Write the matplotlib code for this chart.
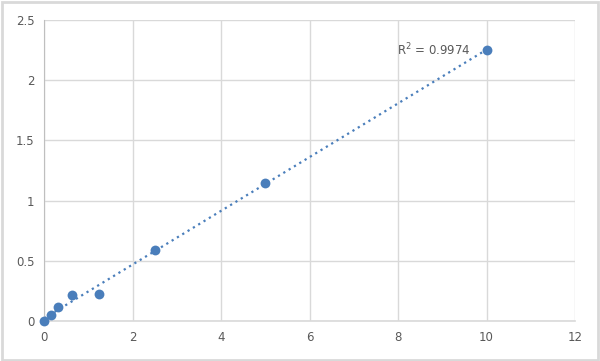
import numpy as np
import matplotlib.pyplot as plt
from matplotlib.patches import Rectangle

# standard curve readings
concentration = [0, 0.156, 0.3125, 0.625, 1.25, 2.5, 5, 10]
od_value = [0.0, 0.05, 0.12, 0.22, 0.225, 0.59, 1.15, 2.25]
x_ticks = [0, 2, 4, 6, 8, 10, 12]
y_ticks = [0, 0.5, 1, 1.5, 2, 2.5]
y_labels = ['0', '0.5', '1', '1.5', '2', '2.5']
r2_label = 'R$^2$ = 0.9974'

blue = '#4a7ebb'
grey_text = '#595959'
grid_col = '#d9d9d9'

fig = plt.figure(figsize=(6, 3.61), dpi=100)
ax = fig.add_axes([44 / 600, 40 / 361, 531 / 600, 301 / 361])

x = np.array(concentration)
y = np.array(od_value)
slope, intercept = np.polyfit(x, y, 1)
xs = np.array([x.min(), x.max()])
ax.plot(xs, slope * xs + intercept, linestyle=(0, (1, 1.8)), color=blue,
        linewidth=1.6, zorder=2)
ax.scatter(x, y, s=50, color=blue, zorder=3, linewidths=0, clip_on=False)

ax.set_xlim(0, 12)
ax.set_ylim(0, 2.5)
ax.set_xticks(x_ticks)
ax.set_yticks(y_ticks)
ax.set_yticklabels(y_labels)
ax.grid(True, color=grid_col, linewidth=1)
ax.set_axisbelow(True)
for side in ['top', 'right']:
    ax.spines[side].set_visible(False)
ax.spines['left'].set_color('#bfbfbf')
ax.spines['bottom'].set_color(grid_col)
ax.spines['bottom'].set_linewidth(1.2)
ax.tick_params(length=0, labelsize=8.5, labelcolor=grey_text, pad=7)

ax.text(9.65, 2.25, r2_label, ha='right', va='center', fontsize=8.5,
        color=grey_text)

# light frame around the whole chart
fig.patches.append(Rectangle((0.003, 0.004), 0.993, 0.991,
                             transform=fig.transFigure, fill=False,
                             edgecolor=grid_col, linewidth=2))

fig.savefig('out.png', dpi=100)
